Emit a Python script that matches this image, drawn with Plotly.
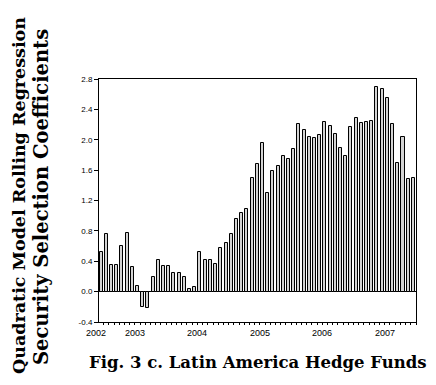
import plotly.graph_objects as go

# Monthly security-selection coefficients from the quadratic rolling regression
coefficients = [
    0.52, 0.76, 0.35, 0.35, 0.60, 0.77, 0.33, 0.08, -0.20, -0.21,
    0.19, 0.42, 0.34, 0.34, 0.25, 0.24, 0.19, 0.03, 0.06, 0.52,
    0.41, 0.41, 0.36, 0.57, 0.64, 0.76, 0.96, 1.04, 1.09, 1.49,
    1.68, 1.96, 1.30, 1.59, 1.66, 1.79, 1.75, 1.88, 2.21, 2.13,
    2.04, 2.02, 2.06, 2.24, 2.18, 2.08, 1.89, 1.78, 2.17, 2.29,
    2.22, 2.24, 2.25, 2.70, 2.67, 2.55, 2.21, 1.70, 2.04, 1.48,
    1.49,
]
months = list(range(len(coefficients)))

# Year labels and where they sit along the month axis
year_labels = ["2002", "2003", "2004", "2005", "2006", "2007"]
year_label_pos = [-1.0, 6.5, 18.5, 30.5, 42.5, 54.5]
# Year boundaries (major ticks) and month boundaries (minor ticks)
year_breaks = [12.5, 24.5, 36.5, 48.5]
month_breaks = [m + 0.5 for m in range(-1, len(coefficients))]

y_ticks = [-0.4, 0.0, 0.4, 0.8, 1.2, 1.6, 2.0, 2.4, 2.8]

x_range = [-0.4, 60.5]

W, H = 436, 385
ML, MR, MT, MB = 99, 20, 79, 63
plot_w = W - ML - MR
plot_h = H - MT - MB


def px_to_paper(px, py):
    return (px - ML) / plot_w, (H - MB - py) / plot_h


fig = go.Figure()
fig.add_trace(go.Bar(
    x=months,
    y=coefficients,
    width=0.58,
    marker=dict(color="#d4d4d4", line=dict(color="black", width=1)),
    showlegend=False,
))

fig.update_layout(
    width=W,
    height=H,
    margin=dict(l=ML, r=MR, t=MT, b=MB),
    paper_bgcolor="white",
    plot_bgcolor="white",
    bargap=0,
    font=dict(family="Arial, Liberation Sans, sans-serif", size=8, color="black"),
)

fig.update_xaxes(
    range=x_range,
    showgrid=False,
    zeroline=False,
    showline=True,
    linecolor="black",
    linewidth=1,
    mirror=True,
    tickmode="array",
    tickvals=year_breaks,
    ticktext=["" for _ in year_breaks],
    ticks="outside",
    ticklen=4,
    tickwidth=1,
    tickcolor="black",
    minor=dict(
        tickmode="array",
        tickvals=month_breaks,
        ticks="outside",
        ticklen=2,
        tickwidth=1,
        tickcolor="black",
    ),
)

fig.update_yaxes(
    range=[-0.4, 2.8],
    showgrid=False,
    zeroline=True,
    zerolinecolor="black",
    zerolinewidth=1,
    showline=True,
    linecolor="black",
    linewidth=1,
    mirror=True,
    tickmode="array",
    tickvals=y_ticks,
    ticktext=[f"{v:.1f}" for v in y_ticks],
    ticks="outside",
    ticklen=4,
    tickwidth=1,
    tickcolor="black",
    tickfont=dict(size=8),
)

# Year labels under the axis (positions mapped through the x range)
for lab, pos in zip(year_labels, year_label_pos):
    fig.add_annotation(
        x=(pos - x_range[0]) / (x_range[1] - x_range[0]), xref="paper",
        xanchor="center",
        y=0, yref="paper", yanchor="top", yshift=-4,
        text=lab, showarrow=False,
        font=dict(family="Arial, Liberation Sans, sans-serif", size=9, color="black"),
    )

# Two-line rotated axis title
for text, cx, cy, size in [
    ("Quadratic Model Rolling Regression", 19, 196, 17.5),
    ("Security Selection Coefficients", 41, 197, 19.5),
]:
    ax, ay = px_to_paper(cx, cy)
    fig.add_annotation(
        x=ax, xref="paper", xanchor="center",
        y=ay, yref="paper", yanchor="middle",
        text=f"<b>{text}</b>", showarrow=False, textangle=-90,
        font=dict(family="DejaVu Serif", size=size, color="black"),
    )

# Caption below the chart
cx, cy = px_to_paper(258, 362)
fig.add_annotation(
    x=cx, xref="paper", xanchor="center",
    y=cy, yref="paper", yanchor="middle",
    text="<b>Fig. 3 c. Latin America Hedge Funds</b>",
    showarrow=False,
    font=dict(family="DejaVu Serif", size=16.5, color="black"),
)

fig.write_html("out.html")
